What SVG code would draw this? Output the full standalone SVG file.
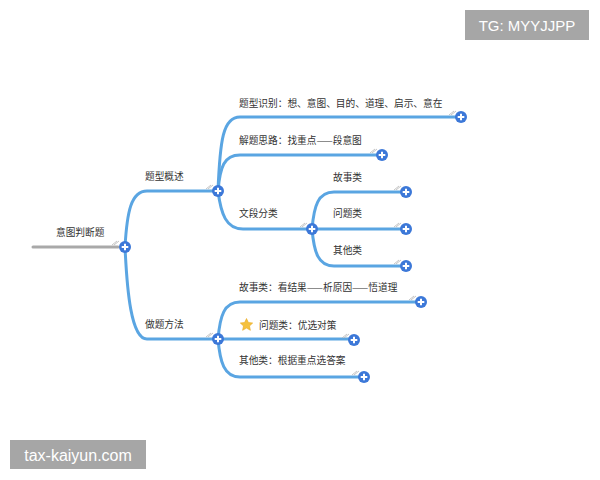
<svg xmlns="http://www.w3.org/2000/svg" width="600" height="480" viewBox="0 0 600 480">
<defs>
<style>
.t{font-family:"Noto Sans CJK SC","Noto Sans",sans-serif;font-size:9.7px;fill:#333}
.e{fill:none;stroke:#5aa5e2;stroke-width:3;stroke-linecap:round}
.f{stroke:#b5b5b5;stroke-width:0.8;fill:none}
.wm{font-family:"Liberation Sans","DejaVu Sans",sans-serif;fill:#fff}
</style>
<g id="plus">
<circle r="6" fill="#3c78d8"/>
<path d="M-3.3,0H3.3M0,-3.3V3.3" stroke="#fff" stroke-width="2"/>
</g>
</defs>
<rect width="600" height="480" fill="#fff"/>
<g id="connectors">
<path d="M33,247H118" fill="none" stroke="#a9a9a9" stroke-width="3" stroke-linecap="round"/>
<path class="e" d="M125,247C127,212 131,191 147,191H218"/>
<path class="e" d="M125,247C127,290 131,339 147,339H218"/>
<path class="e" d="M218,191C220,140 223,117 240,117H461"/>
<path class="e" d="M218,191C220,167 224,155 240,155H382"/>
<path class="e" d="M218,191C221,214 226,229 243,229H312"/>
<path class="e" d="M312,229C314,206 318,192 334,192H406"/>
<path class="e" d="M312,229H406"/>
<path class="e" d="M312,229C314,252 318,266 334,266H406"/>
<path class="e" d="M218,339C220,316 224,302 240,302H421"/>
<path class="e" d="M218,339H354"/>
<path class="e" d="M218,339C220,362 224,377 240,377H364"/>
<g class="f">
<path d="M112,245l5,-4M114,245l5,-4"/>
<path d="M206,189l5,-4M208,189l5,-4"/>
<path d="M449,115l5,-4M451,115l5,-4"/>
<path d="M370,153l5,-4M372,153l5,-4"/>
<path d="M300,227l5,-4M302,227l5,-4"/>
<path d="M394,190l5,-4M396,190l5,-4"/>
<path d="M394,227l5,-4M396,227l5,-4"/>
<path d="M394,264l5,-4M396,264l5,-4"/>
<path d="M206,337l5,-4M208,337l5,-4"/>
<path d="M409,300l5,-4M411,300l5,-4"/>
<path d="M342,338l5,-4M344,338l5,-4"/>
<path d="M352,375l5,-4M354,375l5,-4"/>
</g>
</g>
<g id="n-root"><text class="t" x="56" y="236">意图判断题</text><use href="#plus" x="125" y="247"/></g>
<g id="n-gaishu"><text class="t" x="145" y="180">题型概述</text><use href="#plus" x="218" y="191"/></g>
<g id="n-fangfa"><text class="t" x="145" y="328">做题方法</text><use href="#plus" x="218" y="339"/></g>
<g id="n-shibie"><text class="t" x="239" y="107">题型识别：想、意图、目的、道理、启示、意在</text><use href="#plus" x="461" y="117"/></g>
<g id="n-silu"><text class="t" x="239" y="144">解题思路：找重点——段意图</text><use href="#plus" x="382" y="155"/></g>
<g id="n-fenlei"><text class="t" x="239" y="217">文段分类</text><use href="#plus" x="312" y="229"/></g>
<g id="n-gushi"><text class="t" x="333" y="181">故事类</text><use href="#plus" x="406" y="192"/></g>
<g id="n-wenti"><text class="t" x="333" y="217">问题类</text><use href="#plus" x="406" y="229"/></g>
<g id="n-qita"><text class="t" x="333" y="254">其他类</text><use href="#plus" x="406" y="266"/></g>
<g id="n-gushi2"><text class="t" x="239" y="291">故事类：看结果——析原因——悟道理</text><use href="#plus" x="421" y="302"/></g>
<g id="n-wenti2">
<path d="M246.5,318.5l1.9,4 4.3,0.5 -3.2,3 0.9,4.3 -3.9,-2.2 -3.9,2.2 0.9,-4.3 -3.2,-3 4.3,-0.5z" fill="#f5c13d" stroke="#e8a923" stroke-width="0.6" stroke-linejoin="round"/>
<text class="t" x="259" y="329">问题类：优选对策</text><use href="#plus" x="354" y="340"/></g>
<g id="n-qita2"><text class="t" x="239" y="364">其他类：根据重点选答案</text><use href="#plus" x="364" y="377"/></g>
<g id="wm1"><rect x="465" y="10" width="124" height="30" fill="#a6a6a6"/><text class="wm" x="527" y="30.5" font-size="15" text-anchor="middle">TG: MYYJJPP</text></g>
<g id="wm2"><rect x="10" y="440" width="136" height="29" fill="#a6a6a6"/><text class="wm" x="78" y="460.5" font-size="16" text-anchor="middle">tax-kaiyun.com</text></g>
</svg>
